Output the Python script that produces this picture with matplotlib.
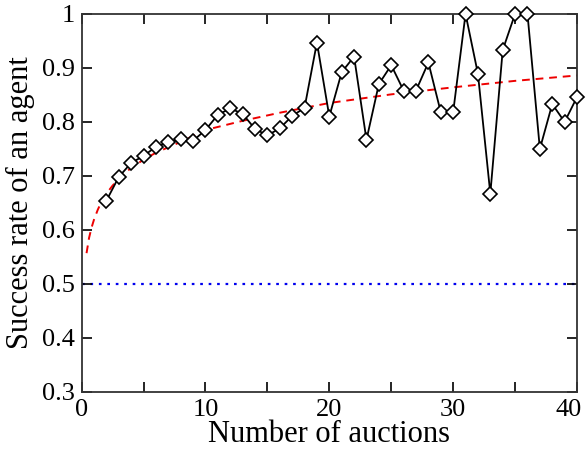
import numpy as np
import matplotlib
matplotlib.use("Agg")
import matplotlib.pyplot as plt
import matplotlib.transforms as mtransforms

plt.rcParams['font.family'] = ['Liberation Serif', 'DejaVu Serif']

# measured success rate per auction count
auctions = list(range(2, 41))
success = [0.654, 0.698, 0.724, 0.737, 0.754, 0.762, 0.768, 0.765, 0.785,
           0.813, 0.825, 0.815, 0.787, 0.775, 0.788, 0.811, 0.826, 0.947,
           0.810, 0.892, 0.921, 0.767, 0.870, 0.905, 0.858, 0.858, 0.910,
           0.818, 0.818, 1.000, 0.889, 0.667, 0.933, 1.000, 1.000, 0.750,
           0.833, 0.800, 0.846]

# fitted trend
fit_x = [0.4, 0.6, 0.8, 1.0, 1.3, 1.6, 2, 2.5, 3, 4, 5, 6, 8, 10, 13, 16,
         20, 25, 30, 35, 40]
fit_y = [0.557, 0.585, 0.604, 0.619, 0.637, 0.652, 0.667, 0.682, 0.695,
         0.715, 0.730, 0.743, 0.763, 0.785, 0.802, 0.817, 0.835, 0.851,
         0.864, 0.876, 0.886]

baseline = 0.5

fig = plt.figure(figsize=(5.87, 4.55), dpi=100)
ax = fig.add_axes([0.139, 0.1385, 0.844, 0.831])

ax.axhline(baseline, color="#0000ee", linestyle=(0, (1.2, 2.6)), linewidth=1.6, zorder=1)
ax.plot(fit_x, fit_y, color="#ee0000", linestyle=(0, (4, 3)), linewidth=1.4, zorder=2)
ax.plot(auctions, success, color="black", linewidth=1.3, marker="D", markersize=7,
        markerfacecolor="white", markeredgecolor="black", markeredgewidth=1.2,
        zorder=3, clip_on=False)

ax.set_xlim(0, 40)
ax.set_ylim(0.3, 1.0)
ax.set_xticks(np.arange(0, 41, 5))
ax.set_xticklabels(["0", "", "10", "", "20", "", "30", "", "40"])
ax.set_yticks(np.arange(0.3, 1.01, 0.1))
ax.set_yticklabels(["0.3", "0.4", "0.5", "0.6", "0.7", "0.8", "0.9", "1"])
ax.tick_params(direction="in", length=7, width=1.2, top=True, right=True,
               labelsize=19, pad=5)
for s in ax.spines.values():
    s.set_linewidth(1.3)
    s.set_color("#333333")

# keep the last x label inside the figure
last = ax.get_xticklabels()[-1]
last.set_transform(last.get_transform() +
                   mtransforms.ScaledTranslation(-6 / 72, 0, fig.dpi_scale_trans))

ax.set_xlabel("Number of auctions", fontsize=22, labelpad=-1)
ax.set_ylabel("Success rate of an agent", fontsize=22, labelpad=5)

fig.savefig("out.png", dpi=100)
